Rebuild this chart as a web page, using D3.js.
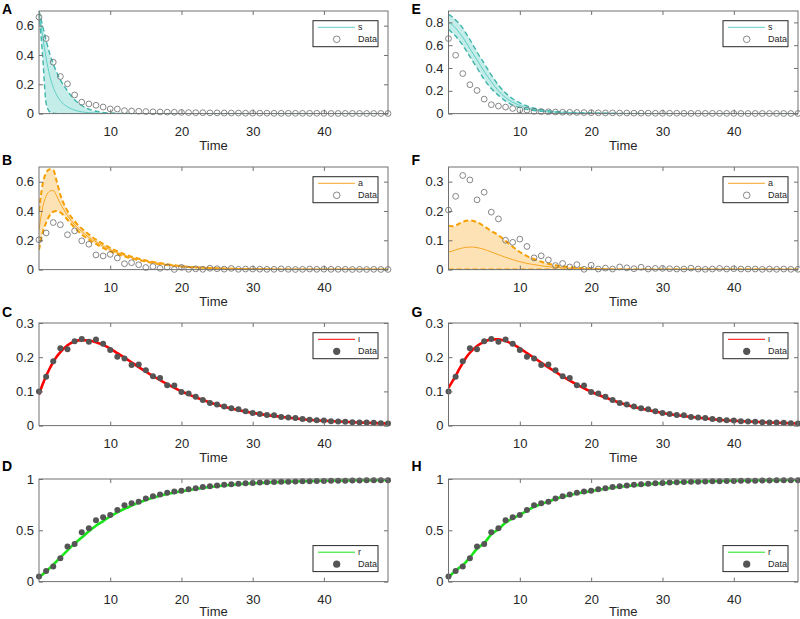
<!DOCTYPE html>
<html><head><meta charset="utf-8">
<script src="https://cdn.jsdelivr.net/npm/d3@7"></script>
<style>body{margin:0;background:#fff}svg{display:block}</style>
</head><body><div id="chart"></div>
<script>
// ---------- data ----------
const time = [0,1,2,3,4,5,6,7,8,9,10,11,12,13,14,15,16,17,18,19,20,21,22,23,24,25,26,27,28,29,30,31,32,33,34,35,36,37,38,39,40,41,42,43,44,45,46,47,48,49];
const sData = [0.658,0.512,0.351,0.253,0.203,0.127,0.078,0.066,0.057,0.045,0.032,0.031,0.02,0.018,0.016,0.014,0.012,0.011,0.01,0.009,0.008,0.007,0.006,0.006,0.005,0.005,0.004,0.004,0.004,0.003,0.003,0.003,0.003,0.002,0.002,0.002,0.002,0.002,0.002,0.002,0.002,0.001,0.001,0.001,0.001,0.001,0.001,0.001,0.001,0.001];
const aData = [0.203,0.25,0.321,0.306,0.238,0.264,0.196,0.173,0.1,0.093,0.104,0.079,0.04,0.047,0.033,0.014,0.021,0.009,0.017,0.001,0.015,0.002,0.005,0.002,0.009,0.006,0.003,0.008,0.002,0.004,0.004,0.003,0.002,0.002,0.005,0.002,0.001,0.002,0.004,0.002,0.003,0.002,0.002,0.002,0.001,0.002,0.001,0.002,0.001,0.001];
const iData = [0.1,0.143,0.188,0.226,0.223,0.247,0.253,0.245,0.252,0.239,0.221,0.201,0.196,0.177,0.179,0.162,0.144,0.139,0.118,0.117,0.098,0.094,0.084,0.075,0.066,0.062,0.056,0.051,0.048,0.042,0.037,0.034,0.031,0.03,0.025,0.024,0.022,0.019,0.017,0.016,0.015,0.013,0.012,0.011,0.01,0.009,0.009,0.008,0.007,0.006];
const rData = [0.049,0.104,0.148,0.227,0.341,0.367,0.48,0.519,0.597,0.627,0.649,0.698,0.745,0.763,0.779,0.81,0.832,0.85,0.866,0.877,0.886,0.899,0.911,0.922,0.93,0.937,0.944,0.95,0.954,0.958,0.962,0.965,0.968,0.97,0.972,0.974,0.976,0.977,0.979,0.98,0.981,0.982,0.983,0.984,0.985,0.986,0.987,0.988,0.988,0.989];

const modelTime = [0,0.5,1,1.5,2,2.5,3,4,5,6,7,8,9,10,11,12,13,14,15,16,18,20,22,25,30,35,40,45,49];
// Panel A (s, fit 1)
const sMeanA = [0.69,0.53,0.38,0.26,0.18,0.125,0.088,0.046,0.024,0.012,0.006,0.003,0.001,0,0,0,0,0,0,0,0,0,0,0,0,0,0,0,0];
const sHiA   = [0.70,0.60,0.50,0.41,0.34,0.28,0.23,0.155,0.095,0.055,0.03,0.016,0.008,0.004,0.002,0.001,0,0,0,0,0,0,0,0,0,0,0,0,0];
const sLoA   = [0.69,0.40,0.07,0.012,0.002,0,0,0,0,0,0,0,0,0,0,0,0,0,0,0,0,0,0,0,0,0,0,0,0];
// Panel B (a, fit 1)
const aMeanB = [0.27,0.42,0.50,0.535,0.54,0.50,0.45,0.37,0.305,0.26,0.22,0.19,0.16,0.136,0.115,0.097,0.082,0.07,0.058,0.048,0.033,0.023,0.016,0.009,0.003,0.001,0,0,0];
const aHiB   = [0.40,0.58,0.66,0.685,0.68,0.60,0.51,0.40,0.33,0.28,0.24,0.205,0.175,0.148,0.125,0.105,0.088,0.075,0.063,0.052,0.036,0.024,0.016,0.009,0.003,0.001,0,0,0];
const aLoB   = [0.135,0.25,0.32,0.37,0.395,0.40,0.39,0.34,0.285,0.24,0.205,0.175,0.148,0.125,0.106,0.09,0.076,0.065,0.054,0.045,0.031,0.021,0.015,0.008,0.003,0.001,0,0,0];
// Panel C / D (fit 1)
const iMeanC = [0.09,0.12,0.145,0.167,0.186,0.202,0.215,0.235,0.246,0.25,0.249,0.244,0.236,0.225,0.212,0.199,0.185,0.171,0.158,0.145,0.121,0.1,0.083,0.061,0.037,0.023,0.014,0.009,0.006];
const rMeanD = [0.04,0.07,0.1,0.132,0.165,0.2,0.235,0.305,0.37,0.43,0.49,0.545,0.59,0.635,0.675,0.71,0.74,0.77,0.795,0.817,0.853,0.88,0.903,0.93,0.958,0.974,0.983,0.988,0.99];
// Panel E (s, fit 2)
const sMeanE = [0.80,0.78,0.75,0.71,0.67,0.62,0.57,0.47,0.37,0.28,0.20,0.14,0.10,0.072,0.05,0.036,0.026,0.019,0.014,0.011,0.006,0.003,0.002,0.001,0,0,0,0,0];
const sHiE   = [0.87,0.85,0.82,0.79,0.75,0.70,0.65,0.54,0.44,0.34,0.25,0.18,0.13,0.095,0.067,0.047,0.034,0.025,0.019,0.015,0.009,0.005,0.003,0.001,0,0,0,0,0];
const sLoE   = [0.74,0.71,0.68,0.64,0.60,0.55,0.50,0.40,0.30,0.22,0.16,0.11,0.075,0.053,0.037,0.027,0.02,0.014,0.01,0.008,0.004,0.002,0.001,0,0,0,0,0,0];
// Panel F (a, fit 2)
const aMeanF = [0.06,0.063,0.067,0.071,0.074,0.076,0.077,0.075,0.069,0.06,0.051,0.042,0.034,0.027,0.021,0.017,0.013,0.01,0.008,0.006,0.003,0.002,0.001,0,0,0,0,0,0];
const aHiF   = [0.150,0.148,0.150,0.157,0.163,0.167,0.168,0.162,0.148,0.132,0.117,0.098,0.078,0.06,0.046,0.036,0.027,0.02,0.015,0.011,0.006,0.003,0.001,0,0,0,0,0,0];
const aLoF   = [0,0,0,0,0,0,0,0,0,0,0,0,0,0,0,0,0,0,0,0,0,0,0,0,0,0,0,0,0];
// Panel G / H (fit 2)
const iMeanG = [0.11,0.128,0.145,0.165,0.183,0.2,0.213,0.233,0.245,0.252,0.252,0.247,0.238,0.226,0.212,0.198,0.184,0.17,0.157,0.144,0.12,0.099,0.082,0.06,0.037,0.023,0.014,0.009,0.006];
const rMeanH = [0.04,0.075,0.105,0.135,0.16,0.195,0.235,0.32,0.375,0.46,0.51,0.575,0.615,0.65,0.69,0.73,0.755,0.78,0.805,0.825,0.858,0.882,0.905,0.932,0.96,0.975,0.983,0.988,0.99];

const xTicks = [10,20,30,40];
const yTicksS1 = [0,0.2,0.4,0.6], yTicksS2 = [0,0.2,0.4,0.6,0.8];
const yTicksA1 = [0,0.2,0.4,0.6], yTicksA2 = [0,0.1,0.2,0.3];
const yTicksI = [0,0.1,0.2,0.3], yTicksR = [0,0.5,1];
const xLabel = "Time";
const legendData = "Data";

// ---------- layout ----------
const W = 800, H = 619;
const colX = [39, 448.5], plotW = [349, 349.5];
const rowY = [11, 167, 323, 479], plotH = 102.6;
const letterY = [13.5, 165, 317, 471];
const timeLabelDy = [36, 36, 36, 34];
const cyan = {line:"#5fcfc6", dash:"#3fb4ab", fill:"#c4ece9"};
const orange = {line:"#f7a623", dash:"#f59f00", fill:"#fde2b6"};

const panels = [
  {id:"A", col:0,row:0, ymax:0.7, yt:yTicksS1, data:sData, filled:false, mean:sMeanA, hi:sHiA, lo:sLoA, c:cyan, dw:1.4, name:"s", legTop:true},
  {id:"B", col:0,row:1, ymax:0.7, yt:yTicksA1, data:aData, filled:false, mean:aMeanB, hi:aHiB, lo:aLoB, c:orange, dw:2, name:"a", legTop:true},
  {id:"C", col:0,row:2, ymax:0.3, yt:yTicksI, data:iData, filled:true, mean:iMeanC, c:{line:"#ff0000"}, name:"ι", legTop:true},
  {id:"D", col:0,row:3, ymax:1, yt:yTicksR, data:rData, filled:true, mean:rMeanD, c:{line:"#19e619"}, name:"r", legTop:false},
  {id:"E", col:1,row:0, ymax:0.9, yt:yTicksS2, data:sData, filled:false, mean:sMeanE, hi:sHiE, lo:sLoE, c:cyan, dw:1.4, name:"s", legTop:true},
  {id:"F", col:1,row:1, ymax:0.35, yt:yTicksA2, data:aData, filled:false, mean:aMeanF, hi:aHiF, lo:aLoF, c:orange, dw:2, name:"a", legTop:true},
  {id:"G", col:1,row:2, ymax:0.3, yt:yTicksI, data:iData, filled:true, mean:iMeanG, c:{line:"#ff0000"}, name:"ι", legTop:true},
  {id:"H", col:1,row:3, ymax:1, yt:yTicksR, data:rData, filled:true, mean:rMeanH, c:{line:"#19e619"}, name:"r", legTop:false}
];

const svg = d3.select("#chart").append("svg").attr("width",W).attr("height",H)
  .style("font-family","'Liberation Sans', Arial, sans-serif");

const fmt = d => String(d);

panels.forEach((p) => {
  const x0 = colX[p.col], y0 = rowY[p.row], w = plotW[p.col], h = plotH;
  const g = svg.append("g").attr("transform",`translate(${x0},${y0})`);
  const x = d3.scaleLinear().domain([0,49]).range([0,w]);
  const y = d3.scaleLinear().domain([0,p.ymax]).range([h,0]);
  const clipId = "clip"+p.id;
  g.append("clipPath").attr("id",clipId).append("rect").attr("width",w).attr("height",h);
  const plot = g.append("g").attr("clip-path",`url(#${clipId})`);
  const curve = d3.curveMonotoneX;
  const idx = modelTime.map((t,i)=>i);

  if (p.hi) {
    plot.append("path").datum(idx)
      .attr("d", d3.area().curve(curve).x(i=>x(modelTime[i])).y0(i=>y(p.lo[i])).y1(i=>y(p.hi[i])))
      .attr("fill", p.c.fill).attr("stroke","none");
    [p.hi, p.lo].forEach(arr => {
      plot.append("path").datum(idx)
        .attr("d", d3.line().curve(curve).x(i=>x(modelTime[i])).y(i=>y(arr[i])))
        .attr("fill","none").attr("stroke",p.c.dash).attr("stroke-width",p.dw)
        .attr("stroke-dasharray","5,3");
    });
    plot.append("path").datum(idx)
      .attr("d", d3.line().curve(curve).x(i=>x(modelTime[i])).y(i=>y(p.mean[i])))
      .attr("fill","none").attr("stroke",p.c.line).attr("stroke-width",1);
  } else {
    plot.append("path").datum(idx)
      .attr("d", d3.line().curve(curve).x(i=>x(modelTime[i])).y(i=>y(p.mean[i])))
      .attr("fill","none").attr("stroke",p.c.line).attr("stroke-width",2.6);
  }

  // data markers
  g.append("g").selectAll("circle").data(time).join("circle")
    .attr("cx",(t)=>x(t)).attr("cy",(t,i)=>y(p.data[i]))
    .attr("r", p.filled ? 3.0 : 2.9)
    .attr("fill", p.filled ? "#555555" : "none")
    .attr("stroke", p.filled ? "none" : "#6a6a6a").attr("stroke-width",0.8);

  // axes
  const axCol = "#262626";
  const ax = (sel) => { sel.select(".domain").remove(); sel.selectAll(".tick line").attr("stroke","#707070"); sel.selectAll("text").attr("fill",axCol).style("font-size","13px").style("font-family","'Liberation Sans', Arial, sans-serif"); };
  g.append("g").attr("transform",`translate(0,${h})`).call(d3.axisBottom(x).tickValues(xTicks).tickSize(-4).tickPadding(13).tickFormat(fmt)).call(ax);
  g.append("g").call(d3.axisTop(x).tickValues(xTicks).tickSize(-4).tickFormat("")).call(ax);
  g.append("g").call(d3.axisLeft(y).tickValues(p.yt).tickSize(-4).tickPadding(5).tickFormat(fmt)).call(ax);
  g.append("g").attr("transform",`translate(${w},0)`).call(d3.axisRight(y).tickValues(p.yt).tickSize(-4).tickFormat("")).call(ax);
  g.append("rect").attr("width",w).attr("height",h).attr("fill","none").attr("stroke","#707070").attr("stroke-width",1);

  g.append("text").attr("x",w/2).attr("y",h+timeLabelDy[p.row]).attr("text-anchor","middle")
    .attr("fill",axCol).style("font-size","13px").text(xLabel);

  // panel letter
  svg.append("text").attr("x", x0-37).attr("y", letterY[p.row]).attr("fill","#000")
    .style("font-size","14px").style("font-weight","bold").text(p.id);

  // legend
  const lw = 65, lh = 26;
  const lx = w - 10 - lw, ly = p.legTop ? 9.7 : h - 10 - lh;
  const lg = g.append("g").attr("transform",`translate(${lx},${ly})`);
  lg.append("rect").attr("width",lw).attr("height",lh).attr("fill","#fff").attr("stroke","#262626").attr("stroke-width",1);
  lg.append("line").attr("x1",5).attr("x2",42).attr("y1",6.6).attr("y2",6.6).attr("stroke",p.c.line).attr("stroke-width",1);
  lg.append("text").attr("x",45).attr("y",9.8).attr("fill",axCol).style("font-size","9px").text(p.name);
  lg.append("circle").attr("cx",23.7).attr("cy",18.6).attr("r", p.filled ? 3.6 : 3.3)
    .attr("fill", p.filled ? "#555555" : "none").attr("stroke", p.filled ? "none" : "#6a6a6a").attr("stroke-width",0.8);
  lg.append("text").attr("x",45).attr("y",21.8).attr("fill",axCol).style("font-size","9px").text(legendData);
});
</script>
</body></html>
